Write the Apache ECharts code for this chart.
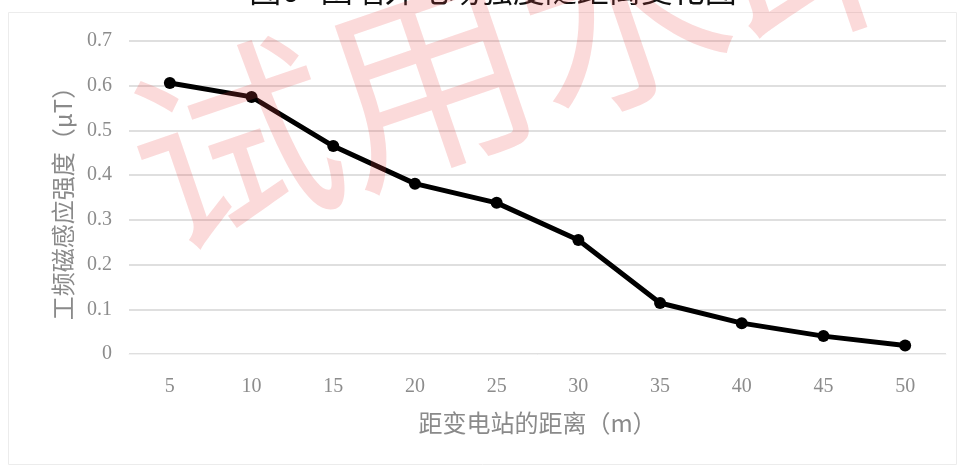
<!DOCTYPE html>
<html>
<head>
<meta charset="utf-8">
<script src="https://cdn.jsdelivr.net/npm/echarts@6/dist/echarts.min.js"></script>
<style>
  html, body { margin: 0; padding: 0; background: #fff; }
  #chart { width: 963px; height: 469px; }
</style>
</head>
<body>
<div id="chart"></div>
<script>
// Distance from the substation (m)
const distances = ['5', '10', '15', '20', '25', '30', '35', '40', '45', '50'];
// Power-frequency magnetic induction (μT)
const induction = [0.606, 0.575, 0.465, 0.381, 0.338, 0.255, 0.114, 0.069, 0.040, 0.019];
const yTicks = [0, 0.1, 0.2, 0.3, 0.4, 0.5, 0.6, 0.7];

const titleText = '图6   围墙外电场强度随距离变化图';
const xName = '距变电站的距离（m）';
const yName = '工频磁感应强度（μT）';
const watermark = '试用水印';

const chart = echarts.init(document.getElementById('chart'), null, { renderer: 'canvas' });

chart.setOption({
  backgroundColor: '#ffffff',
  animation: false,
  grid: { left: 129, right: 17, top: 41, bottom: 115 },
  xAxis: {
    type: 'category',
    data: distances,
    boundaryGap: true,
    name: xName,
    nameLocation: 'middle',
    nameGap: 57,
    nameTextStyle: { fontFamily: 'Noto Sans CJK SC', fontSize: 24, color: '#8a8a8a' },
    axisLine: { show: true, lineStyle: { color: '#f2f2f2', width: 1 } },
    axisTick: { show: false },
    axisLabel: { margin: 23, fontFamily: 'Liberation Serif', fontSize: 20, color: '#8c8c8c' }
  },
  yAxis: {
    type: 'value',
    min: yTicks[0],
    max: yTicks[yTicks.length - 1],
    interval: 0.1,
    name: yName,
    nameLocation: 'middle',
    nameGap: 54,
    nameTextStyle: { fontFamily: 'Noto Sans CJK SC', fontSize: 24, color: '#8a8a8a' },
    axisLine: { show: false },
    axisTick: { show: false },
    axisLabel: {
      margin: 17,
      fontFamily: 'Liberation Serif', fontSize: 20, color: '#8c8c8c',
      formatter: v => (v === 0 ? '0' : v.toFixed(1))
    },
    splitLine: {
      show: true,
      lineStyle: { color: '#d4d4d4', width: 1.5 },
      interval: (i, v) => v !== 0
    }
  },
  series: [{
    type: 'line',
    data: induction,
    symbol: 'circle',
    symbolSize: 12,
    lineStyle: { color: '#000000', width: 5 },
    itemStyle: { color: '#000000' },
    z: 3
  }],
  graphic: [
    {
      type: 'rect',
      shape: { x: 8.5, y: 12.5, width: 948, height: 452 },
      style: { fill: 'none', stroke: '#ececec', lineWidth: 1 },
      silent: true, z: -1
    },
    {
      type: 'text',
      x: 493, y: 6,
      style: {
        text: titleText,
        fontFamily: 'Noto Sans CJK SC', fontSize: 32, fill: '#111111',
        textAlign: 'center', textVerticalAlign: 'bottom'
      },
      silent: true, z: 10
    },
    {
      type: 'text',
      x: 525, y: 45,
      rotation: 0.33,
      style: {
        text: watermark,
        fontFamily: 'Noto Sans CJK SC', fontSize: 205, fill: 'rgba(236,70,70,0.2)',
        textAlign: 'center', textVerticalAlign: 'middle'
      },
      silent: true, z: 100
    }
  ]
});
</script>
</body>
</html>
